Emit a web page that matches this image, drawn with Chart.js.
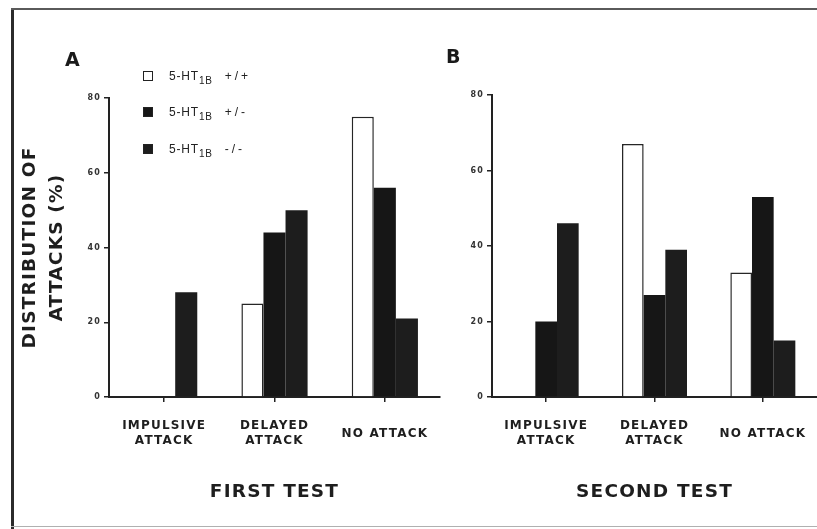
<!DOCTYPE html>
<html>
<head>
<meta charset="utf-8">
<script src="https://cdn.jsdelivr.net/npm/chart.js@4.4.1/dist/chart.umd.min.js"></script>
<style>
  html, body { margin: 0; padding: 0; background: #fff; }
  #fig { position: relative; width: 817px; height: 529px; overflow: hidden; background: #fff; }
  #fig canvas { position: absolute; top: 0; }
  #chartA { left: 0; }
  #chartB { left: 441px; }
  .frame-left { position: absolute; left: 11px; top: 9px; width: 3px; height: 520px; background: #2b2b2b; }
  .frame-top { position: absolute; left: 11px; top: 8px; width: 806px; height: 2px; background: #5a5a5a; }
  .frame-bottom { position: absolute; left: 11px; top: 526px; width: 806px; height: 1px; background: #b0b0b0; }
  .panel { position: absolute; font: bold 19px "DejaVu Sans", sans-serif; color: #1a1a1a; line-height: 20px; }
  #legend { position: absolute; left: 143px; top: 0; font: 12px "Liberation Sans", sans-serif; color: #222; }
  #legend .row { position: absolute; left: 0; white-space: nowrap; height: 14px; line-height: 14px; }
  #legend .box { position: absolute; left: 0; top: 2px; width: 8px; height: 8px; border: 1.5px solid #222; }
  #legend .txt { position: absolute; left: 26px; top: 0; letter-spacing: 0.8px; }
  #legend sub { font-size: 10px; vertical-align: -4px; }
  #legend .g { margin-left: 12px; letter-spacing: 3px; }
</style>
</head>
<body>
<div id="fig">
  <canvas id="chartA" width="441" height="529"></canvas>
  <canvas id="chartB" width="376" height="529"></canvas>
  <div class="frame-left"></div>
  <div class="frame-top"></div>
  <div class="frame-bottom"></div>
  <div class="panel" style="left:65px; top:49px;">A</div>
  <div class="panel" style="left:446px; top:46px;">B</div>
  <div id="legend"></div>
</div>
<script>
// categories and genotype series
const categories = [['IMPULSIVE', 'ATTACK'], ['DELAYED', 'ATTACK'], 'NO ATTACK'];
const genotypes = ['+/+', '+/-', '-/-'];
const yTicks = [0, 20, 40, 60, 80];

// first test (%)
const firstWT = [0, 25, 75];
const firstHet = [0, 44, 56];
const firstKO = [28, 50, 21];

// second test (%)
const secondWT = [0, 67, 33];
const secondHet = [20, 27, 53];
const secondKO = [46, 39, 15];

const barFill = ['#ffffff', '#161616', '#1d1d1d'];
const ink = '#1e1e1e';

// scanned lettering is spaced out a bit
const spacing = {
  id: 'spacing',
  beforeDraw(chart) { chart.ctx.letterSpacing = '1.2px'; }
};

function makeChart(id, series, opt) {
  return new Chart(document.getElementById(id), {
    type: 'bar',
    data: {
      labels: categories,
      datasets: genotypes.map((g, i) => ({
        label: '5-HT1B ' + g,
        data: series[i],
        backgroundColor: barFill[i],
        borderColor: '#262626',
        borderWidth: i === 0 ? 1.5 : 0,
        categoryPercentage: 0.6,
        barPercentage: 1.0
      }))
    },
    options: {
      responsive: false,
      animation: false,
      layout: { padding: { left: 0, right: opt.right, top: opt.top, bottom: 0 } },
      plugins: { legend: { display: false }, tooltip: { enabled: false } },
      scales: {
        x: {
          grid: { display: true, drawOnChartArea: false, offset: false, tickLength: 5, color: '#222', lineWidth: 1.5 },
          border: { display: true, color: '#222', width: 2 },
          ticks: {
            color: ink, autoSkip: false, maxRotation: 0, padding: 24, crossAlign: 'center',
            font: { family: 'DejaVu Sans', weight: 'bold', size: 12, lineHeight: 1.25 }
          },
          title: {
            display: true, text: opt.test, color: ink,
            font: { family: 'DejaVu Sans', weight: 'bold', size: 18.5 },
            padding: { top: 0, bottom: 26 }
          },
          afterFit: s => { s.height = 529 - 397; s.paddingLeft = 0; s.paddingRight = 0; }
        },
        y: {
          min: 0, max: 80,
          afterBuildTicks: s => { s.ticks = yTicks.map(v => ({ value: v })); },
          grid: { display: true, drawOnChartArea: false, tickLength: 5, color: '#222', lineWidth: 1.5 },
          border: { display: true, color: '#222', width: 2 },
          ticks: { color: '#333', padding: 3, font: { family: 'DejaVu Sans', weight: 'bold', size: 8 } },
          title: {
            display: !!opt.yTitle, text: opt.yTitle, color: ink,
            font: { family: 'DejaVu Sans', weight: 'bold', size: 18.5, lineHeight: 1.45 },
            padding: { top: 17, bottom: 0 }
          },
          afterFit: s => { s.width = opt.yWidth; s.paddingTop = 0; s.paddingBottom = 0; }
        }
      }
    },
    plugins: [spacing]
  });
}

makeChart('chartA', [firstWT, firstHet, firstKO], {
  test: 'FIRST TEST', yTitle: ['DISTRIBUTION OF', 'ATTACKS (%)'], yWidth: 109, right: 1, top: 98
});
makeChart('chartB', [secondWT, secondHet, secondKO], {
  test: 'SECOND TEST', yTitle: null, yWidth: 51, right: 0, top: 95
});

// legend as html so the subscript stays real text
const legendRows = [69, 105, 142];
const legend = document.getElementById('legend');
genotypes.forEach((g, i) => {
  const row = document.createElement('div');
  row.className = 'row';
  row.style.top = legendRows[i] + 'px';
  row.innerHTML = '<span class="box" style="background:' + barFill[i] + '"></span>' +
    '<span class="txt">5-HT<sub>1B</sub><span class="g">' + g + '</span></span>';
  legend.appendChild(row);
});
</script>
</body>
</html>
